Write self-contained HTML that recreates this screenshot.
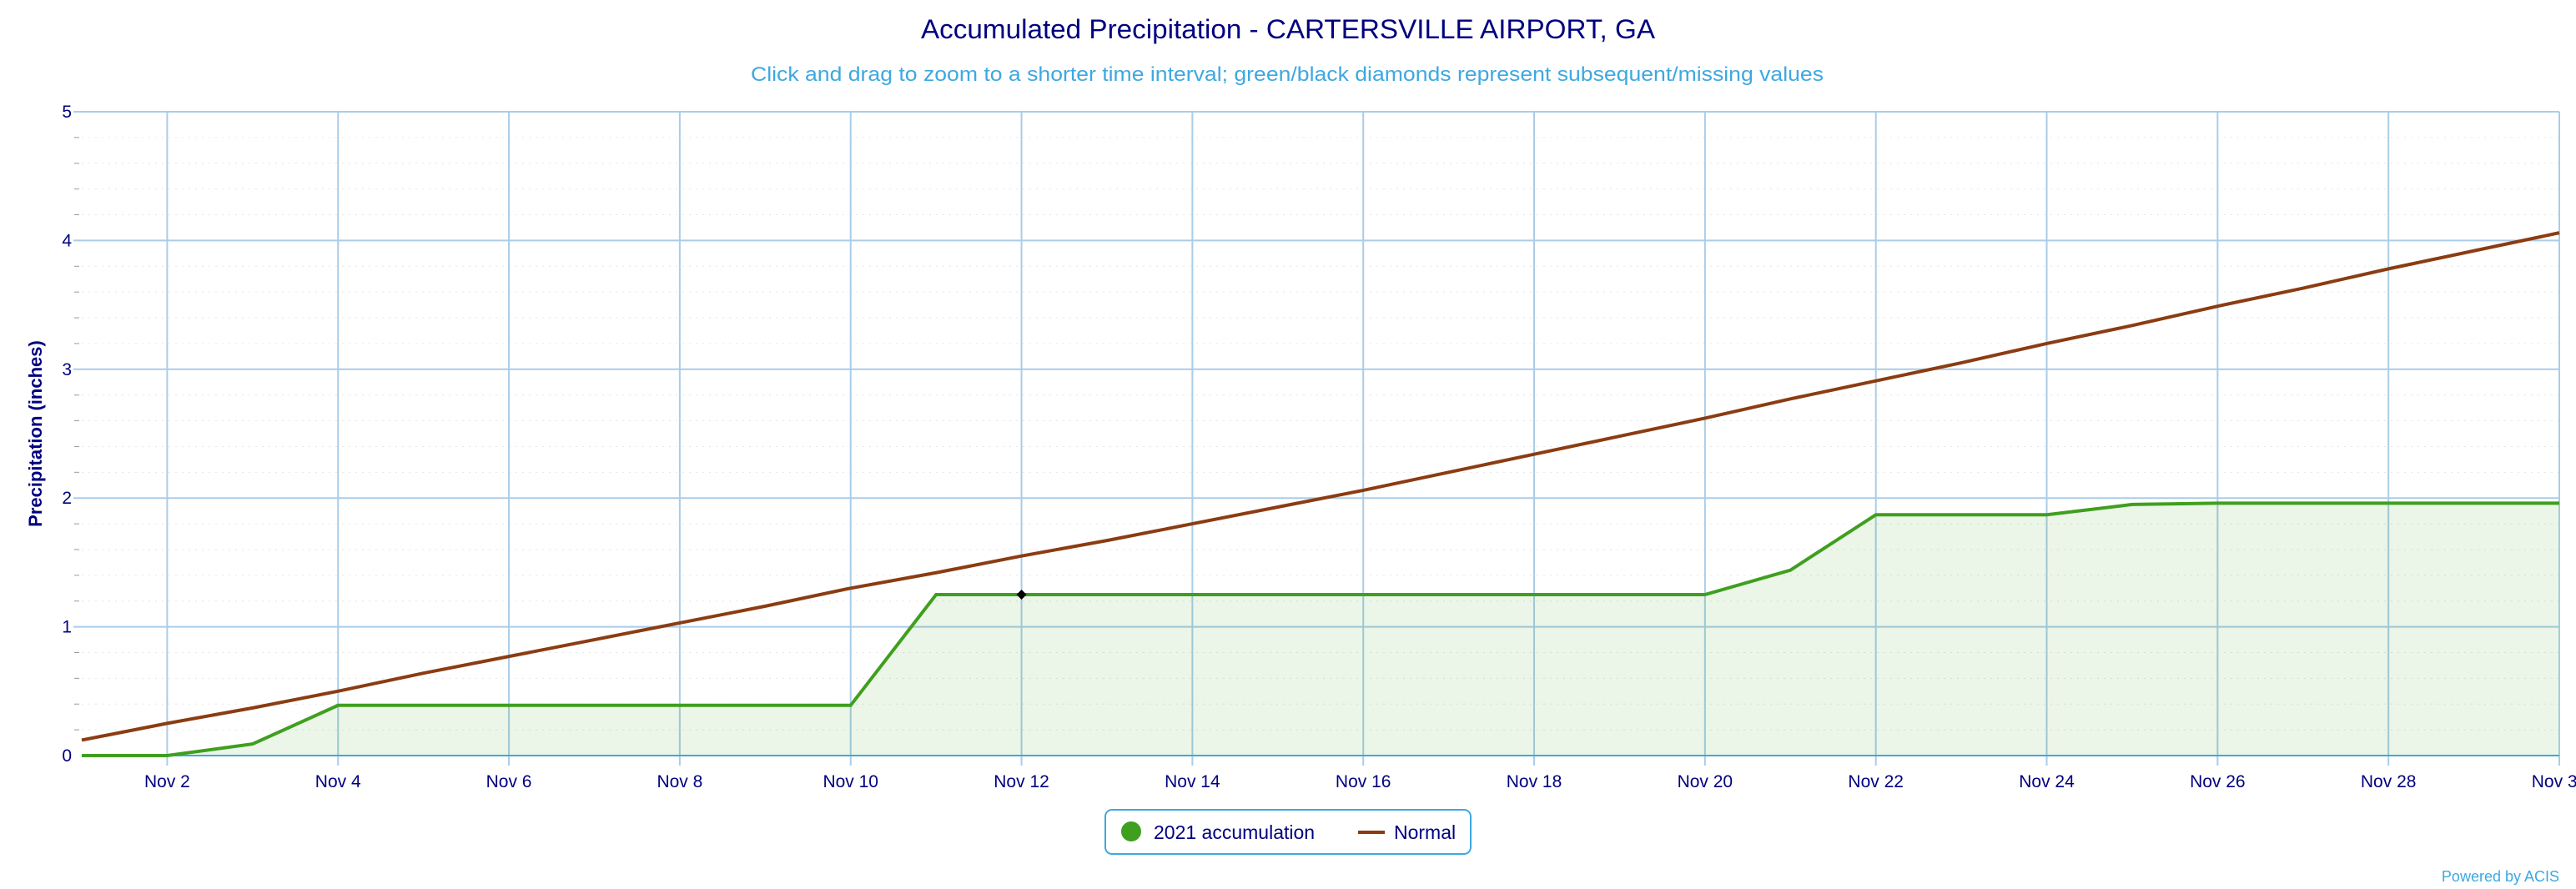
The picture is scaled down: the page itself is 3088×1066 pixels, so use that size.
<!DOCTYPE html>
<html><head><meta charset="utf-8"><style>
html,body{margin:0;padding:0;background:#fff;}
svg{display:block;font-family:"Liberation Sans",sans-serif;}
</style></head><body>
<svg id="chart" width="3088" height="1066" viewBox="0 0 3088 1066" xmlns="http://www.w3.org/2000/svg">
<text x="1544" y="46" text-anchor="middle" font-size="32" fill="#000080" textLength="880" lengthAdjust="spacingAndGlyphs">Accumulated Precipitation - CARTERSVILLE AIRPORT, GA</text>
<text x="1543" y="97" text-anchor="middle" font-size="24" fill="#3ea8e0" textLength="1286" lengthAdjust="spacingAndGlyphs">Click and drag to zoom to a shorter time interval; green/black diamonds represent subsequent/missing values</text>
<g id="grid"></g>
<g id="marks"></g>
<text transform="translate(50,520) rotate(-90)" text-anchor="middle" font-size="22" font-weight="bold" fill="#000080">Precipitation (inches)</text>
<g>
<rect x="1325" y="971" width="438" height="53" rx="8" fill="#fff" stroke="#3ea8e0" stroke-width="2"/>
<g><circle cx="1356" cy="997" r="12" fill="#3f9f1f"/><text x="1383" y="1006" font-size="23" fill="#000080">2021 accumulation</text></g>
<g><line x1="1628" y1="998" x2="1660" y2="998" stroke="#8b3c12" stroke-width="4"/><text x="1671" y="1006" font-size="23" fill="#000080">Normal</text></g>
</g>
<text x="3068" y="1057" text-anchor="end" font-size="18" fill="#3ea8e0">Powered by ACIS</text>
</svg>
<script>
const days = [1,2,3,4,5,6,7,8,9,10,11,12,13,14,15,16,17,18,19,20,21,22,23,24,25,26,27,28,29,30];
const accum2021 = [0,0,0.09,0.39,0.39,0.39,0.39,0.39,0.39,0.39,1.25,1.25,1.25,1.25,1.25,1.25,1.25,1.25,1.25,1.25,1.44,1.87,1.87,1.87,1.95,1.96,1.96,1.96,1.96,1.96];
const normal = [0.12,0.25,0.37,0.5,0.64,0.77,0.9,1.03,1.16,1.3,1.42,1.55,1.67,1.8,1.93,2.06,2.2,2.34,2.48,2.62,2.77,2.91,3.05,3.2,3.34,3.49,3.63,3.78,3.92,4.06];
const missingDays = [12];
const yTicks = [0,1,2,3,4,5];
const xTickDays = [2,4,6,8,10,12,14,16,18,20,22,24,26,28,30];

const NS='http://www.w3.org/2000/svg';
const L=98,R=3068,T=134,B=906;
const x=d=>L+(d-1)*(R-L)/29;
const y=v=>B-v*(B-T)/5;
function mk(tag,attrs,parent){const e=document.createElementNS(NS,tag);for(const k in attrs)e.setAttribute(k,attrs[k]);parent.appendChild(e);return e;}
const grid=document.getElementById('grid'),marks=document.getElementById('marks');
for(let v=0.2;v<5;v+=0.2){
  if(Math.abs(v-Math.round(v))<0.01)continue;
  const g=mk('line',{x1:L,x2:R,y1:y(v),y2:y(v),stroke:'#e6e6e6','stroke-width':1,'stroke-dasharray':'2,6'},grid);
  
  
  const t=mk('line',{x1:L-9,x2:L-3,y1:y(v),y2:y(v),stroke:'#999','stroke-width':1},grid);
  
  
}
yTicks.forEach(v=>{
  if(v>0){const g=mk('line',{x1:L-10,x2:R,y1:y(v),y2:y(v),stroke:'#a9cde8','stroke-width':2},grid);
  
  }
  const t=mk('text',{x:L-12,y:y(v)+7,'text-anchor':'end','font-size':21,fill:'#000080'},grid);
  t.textContent=v;
  
  
});
xTickDays.forEach(d=>{
  const g=mk('line',{x1:x(d),x2:x(d),y1:T,y2:B+12,stroke:'#a9cde8','stroke-width':2},grid);
  
  
  const t=mk('text',{x:x(d),y:B+38,'text-anchor':'middle','font-size':21,fill:'#000080'},grid);
  t.textContent='Nov '+d;
  
  
});
const area=mk('path',{d:'M'+x(days[0])+','+y(0)+days.map((d,i)=>'L'+x(d)+','+y(accum2021[i])).join('')+'L'+x(days[days.length-1])+','+y(0)+'Z',fill:'#3f9f1f','fill-opacity':0.1},marks);


const base=mk('line',{x1:L,x2:R,y1:B,y2:B,stroke:'#3ea8e0','stroke-width':2},marks);


const nl=mk('polyline',{points:days.map((d,i)=>x(d)+','+y(normal[i])).join(' '),fill:'none',stroke:'#8b3c12','stroke-width':4},marks);


const al=mk('polyline',{points:days.map((d,i)=>x(d)+','+y(accum2021[i])).join(' '),fill:'none',stroke:'#3f9f1f','stroke-width':4},marks);


missingDays.forEach(d=>{
  const i=days.indexOf(d),cx=x(d),cy=y(accum2021[i]);
  const m=mk('path',{d:`M${cx},${cy-6}L${cx+6},${cy}L${cx},${cy+6}L${cx-6},${cy}Z`,fill:'#000'},marks);
  
  
});
</script>
</body></html>
